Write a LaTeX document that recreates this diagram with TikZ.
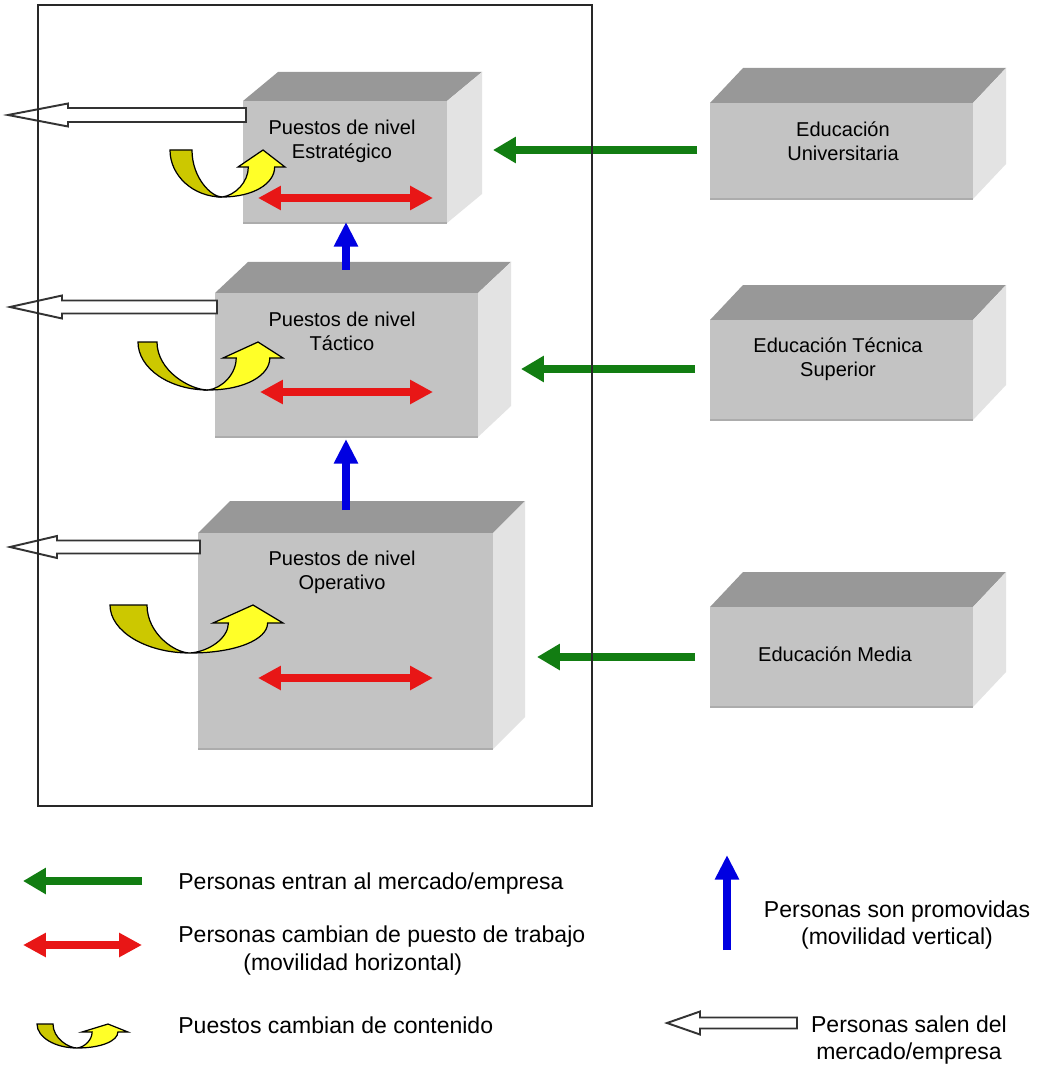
\documentclass[tikz,border=0pt]{standalone}
\usepackage{fontspec}
\setmainfont{Liberation Sans}
\usetikzlibrary{arrows.meta}
\definecolor{topc}{RGB}{152,152,152}
\definecolor{frontc}{RGB}{195,195,195}
\definecolor{sidec}{RGB}{227,227,227}
\definecolor{edgec}{RGB}{172,172,172}
\definecolor{gArrow}{RGB}{18,125,18}
\definecolor{rArrow}{RGB}{232,22,22}
\definecolor{bArrow}{RGB}{0,0,225}
\definecolor{yDark}{RGB}{204,200,0}
\definecolor{yLight}{RGB}{255,255,40}
\definecolor{frameC}{RGB}{40,40,40}

\tikzset{
  boxtext/.style={font=\fontsize{11.4pt}{13.7pt}\selectfont, align=center, inner sep=0pt},
  legtext/.style={font=\fontsize{13.1pt}{15.6pt}\selectfont, inner sep=0pt},
  hollowst/.style={fill=white, draw=black!80, line width=1.1pt, line join=miter},
  greenarr/.style={draw=gArrow, line width=4.5pt, -{Triangle[length=13pt,width=14.2pt]}},
  redarr/.style={draw=rArrow, line width=4pt, {Triangle[length=13pt,width=13pt]}-{Triangle[length=13pt,width=13pt]}},
  bluearr/.style={draw=bArrow, line width=4.5pt, -{Triangle[length=14pt,width=13pt]}},
  framest/.style={draw=frameC, line width=1.1pt}
}

% cuboid: #1 name, #2 x0, #3 y0 (front top-left), #4 x1, #5 y1 (front bottom-right), #6 dx, #7 dy
\newcommand\cuboid[7]{%
  \fill[topc] (#2,#3) -- ({#2+#6},{#3-#7}) -- ({#4+#6},{#3-#7}) -- (#4,#3) -- cycle;
  \fill[sidec] (#4,#3) -- ({#4+#6},{#3-#7}) -- ({#4+#6},{#5-#7}) -- (#4,#5) -- cycle;
  \fill[frontc] (#2,#3) rectangle (#4,#5);
  \draw[edgec,line width=0.8pt] (#2,#5) -- (#4,#5);
  \coordinate (#1-nw) at (#2,#3);
  \coordinate (#1-se) at (#4,#5);
}

% hollow arrow: #1 name, #2 tip x, #3 y, #4 head base x, #5 head half, #6 shaft half, #7 tail x
\newcommand\hollowarrow[7]{%
  \coordinate (#1-tip) at (#2,#3);
  \coordinate (#1-tail) at (#7,#3);
  \draw[hollowst] (#1-tip) -- (#4,{#3-#5}) -- (#4,{#3-#6}) -- (#7,{#3-#6})
     -- (#7,{#3+#6}) -- (#4,{#3+#6}) -- (#4,{#3+#5}) -- cycle;
}

% U-turn arrow: #1,#2 bottom point; #3 TL x; #4 TR x; #5 top dy; #6 barb L x; #7 barb R x; #8 tip x; #9 head base dy
\newcommand\uturn[9]{%
  \begin{scope}[shift={(#1,#2)}]
    \pgfmathsetmacro\uin{#6+0.22*(#7-#6)}
    \pgfmathsetmacro\uout{#7-0.22*(#7-#6)}
    \filldraw[fill=yDark, draw=black, line width=0.7pt]
      (#3,#5) .. controls (#3,{0.45*#5}) and ({0.55*#3},0) .. (0,0)
      .. controls ({0.35*#4},0) and (#4,{0.4*#5}) .. (#4,#5) -- cycle;
    \filldraw[fill=yLight, draw=black, line width=0.7pt, line join=miter]
      (0,0) .. controls ({0.6*\uout},0) and (\uout,{0.45*#9}) .. (\uout,#9)
      -- (#7,#9) -- (#8,#5) -- (#6,#9) -- (\uin,#9)
      .. controls (\uin,{0.5*#9}) and ({0.5*\uin},{0.05*#9}) .. (0,0) -- cycle;
  \end{scope}
}

\begin{document}
\begin{tikzpicture}[x=0.02cm,y=-0.02cm]
\useasboundingbox (0,0) rectangle (1038,1067);
\fill[white] (0,0) rectangle (1038,1067);

% boxes
\cuboid{A}{243}{101}{447}{223}{35}{29}
\cuboid{B}{215}{293}{478}{437}{33}{31}
\cuboid{C}{198}{533}{493}{749}{32}{32}
\cuboid{U}{710}{103}{973}{199}{33}{35}
\cuboid{T}{710}{320}{973}{420}{33}{35}
\cuboid{M}{710}{607}{973}{707}{33}{35}

% red double arrows
\coordinate (rA1) at (258,198); \coordinate (rA2) at (433,198);
\coordinate (rB1) at (260,392); \coordinate (rB2) at (433,392);
\coordinate (rC1) at (258,678); \coordinate (rC2) at (433,678);
\draw[redarr] (rA1) -- (rA2);
\draw[redarr] (rB1) -- (rB2);
\draw[redarr] (rC1) -- (rC2);

% blue arrows
\coordinate (bAB1) at (346,270); \coordinate (bAB2) at (346,222);
\coordinate (bBC1) at (346,510); \coordinate (bBC2) at (346,439);
\draw[bluearr] (bAB1) -- (bAB2);
\draw[bluearr] (bBC1) -- (bBC2);

% green arrows
\coordinate (gU1) at (697,150); \coordinate (gU2) at (493,150);
\coordinate (gT1) at (695,369); \coordinate (gT2) at (521,369);
\coordinate (gM1) at (695,657); \coordinate (gM2) at (537,657);
\draw[greenarr] (gU1) -- (gU2);
\draw[greenarr] (gT1) -- (gT2);
\draw[greenarr] (gM1) -- (gM2);

% hollow arrows (leaving)
\hollowarrow{hA}{8}{115}{68}{11.5}{7}{246}
\hollowarrow{hB}{10}{307}{62}{11.5}{6.5}{217}
\hollowarrow{hC}{10}{547}{57}{11}{6.5}{200}

% yellow u-turn arrows
\uturn{222}{197}{-52}{-30}{-47}{16}{63}{41}{-30}
\uturn{208}{390}{-70}{-51}{-48}{15}{75}{50}{-32}
\uturn{190}{653}{-80}{-43}{-48}{23}{93}{63}{-30}

% box texts
\node[boxtext] (tA) at (342,141) {Puestos de nivel\\Estratégico};
\node[boxtext] (tB) at (342,331) {Puestos de nivel\\Táctico};
\node[boxtext] (tC) at (342,572) {Puestos de nivel\\Operativo};
\node[boxtext] (tU) at (843,141) {Educación\\Universitaria};
\node[boxtext] (tT) at (838,359) {Educación Técnica\\Superior};
\node[boxtext] (tM) at (835,654) {Educación Media};

% frame
\draw[framest] (38,5) rectangle (592,806);

% legend
\coordinate (lg1) at (142,881); \coordinate (lg2) at (23,881);
\draw[greenarr] (lg1) -- (lg2);
\coordinate (lr1) at (23,945); \coordinate (lr2) at (142,945);
\draw[redarr] (lr1) -- (lr2);
\uturn{77}{1048}{-40}{-24}{-24}{5}{51}{31}{-16}
\coordinate (lb1) at (727,950); \coordinate (lb2) at (727,855);
\draw[bluearr] (lb1) -- (lb2);
\hollowarrow{lh}{667}{1023}{700}{11.5}{5.5}{797}

\node[legtext, anchor=west] (L1) at (178,884) {Personas entran al mercado/empresa};
\node[legtext, anchor=west] (L2a) at (178,937) {Personas cambian de puesto de trabajo};
\node[legtext, anchor=west] (L2b) at (243,965) {(movilidad horizontal)};
\node[legtext, anchor=west] (L3) at (178,1025) {Puestos cambian de contenido};
\node[legtext, align=center] (R1) at (897,925) {Personas son promovidas\\(movilidad vertical)};
\node[legtext, align=center] (R2) at (909,1040) {Personas salen del\\mercado/empresa};
\end{tikzpicture}
\end{document}
